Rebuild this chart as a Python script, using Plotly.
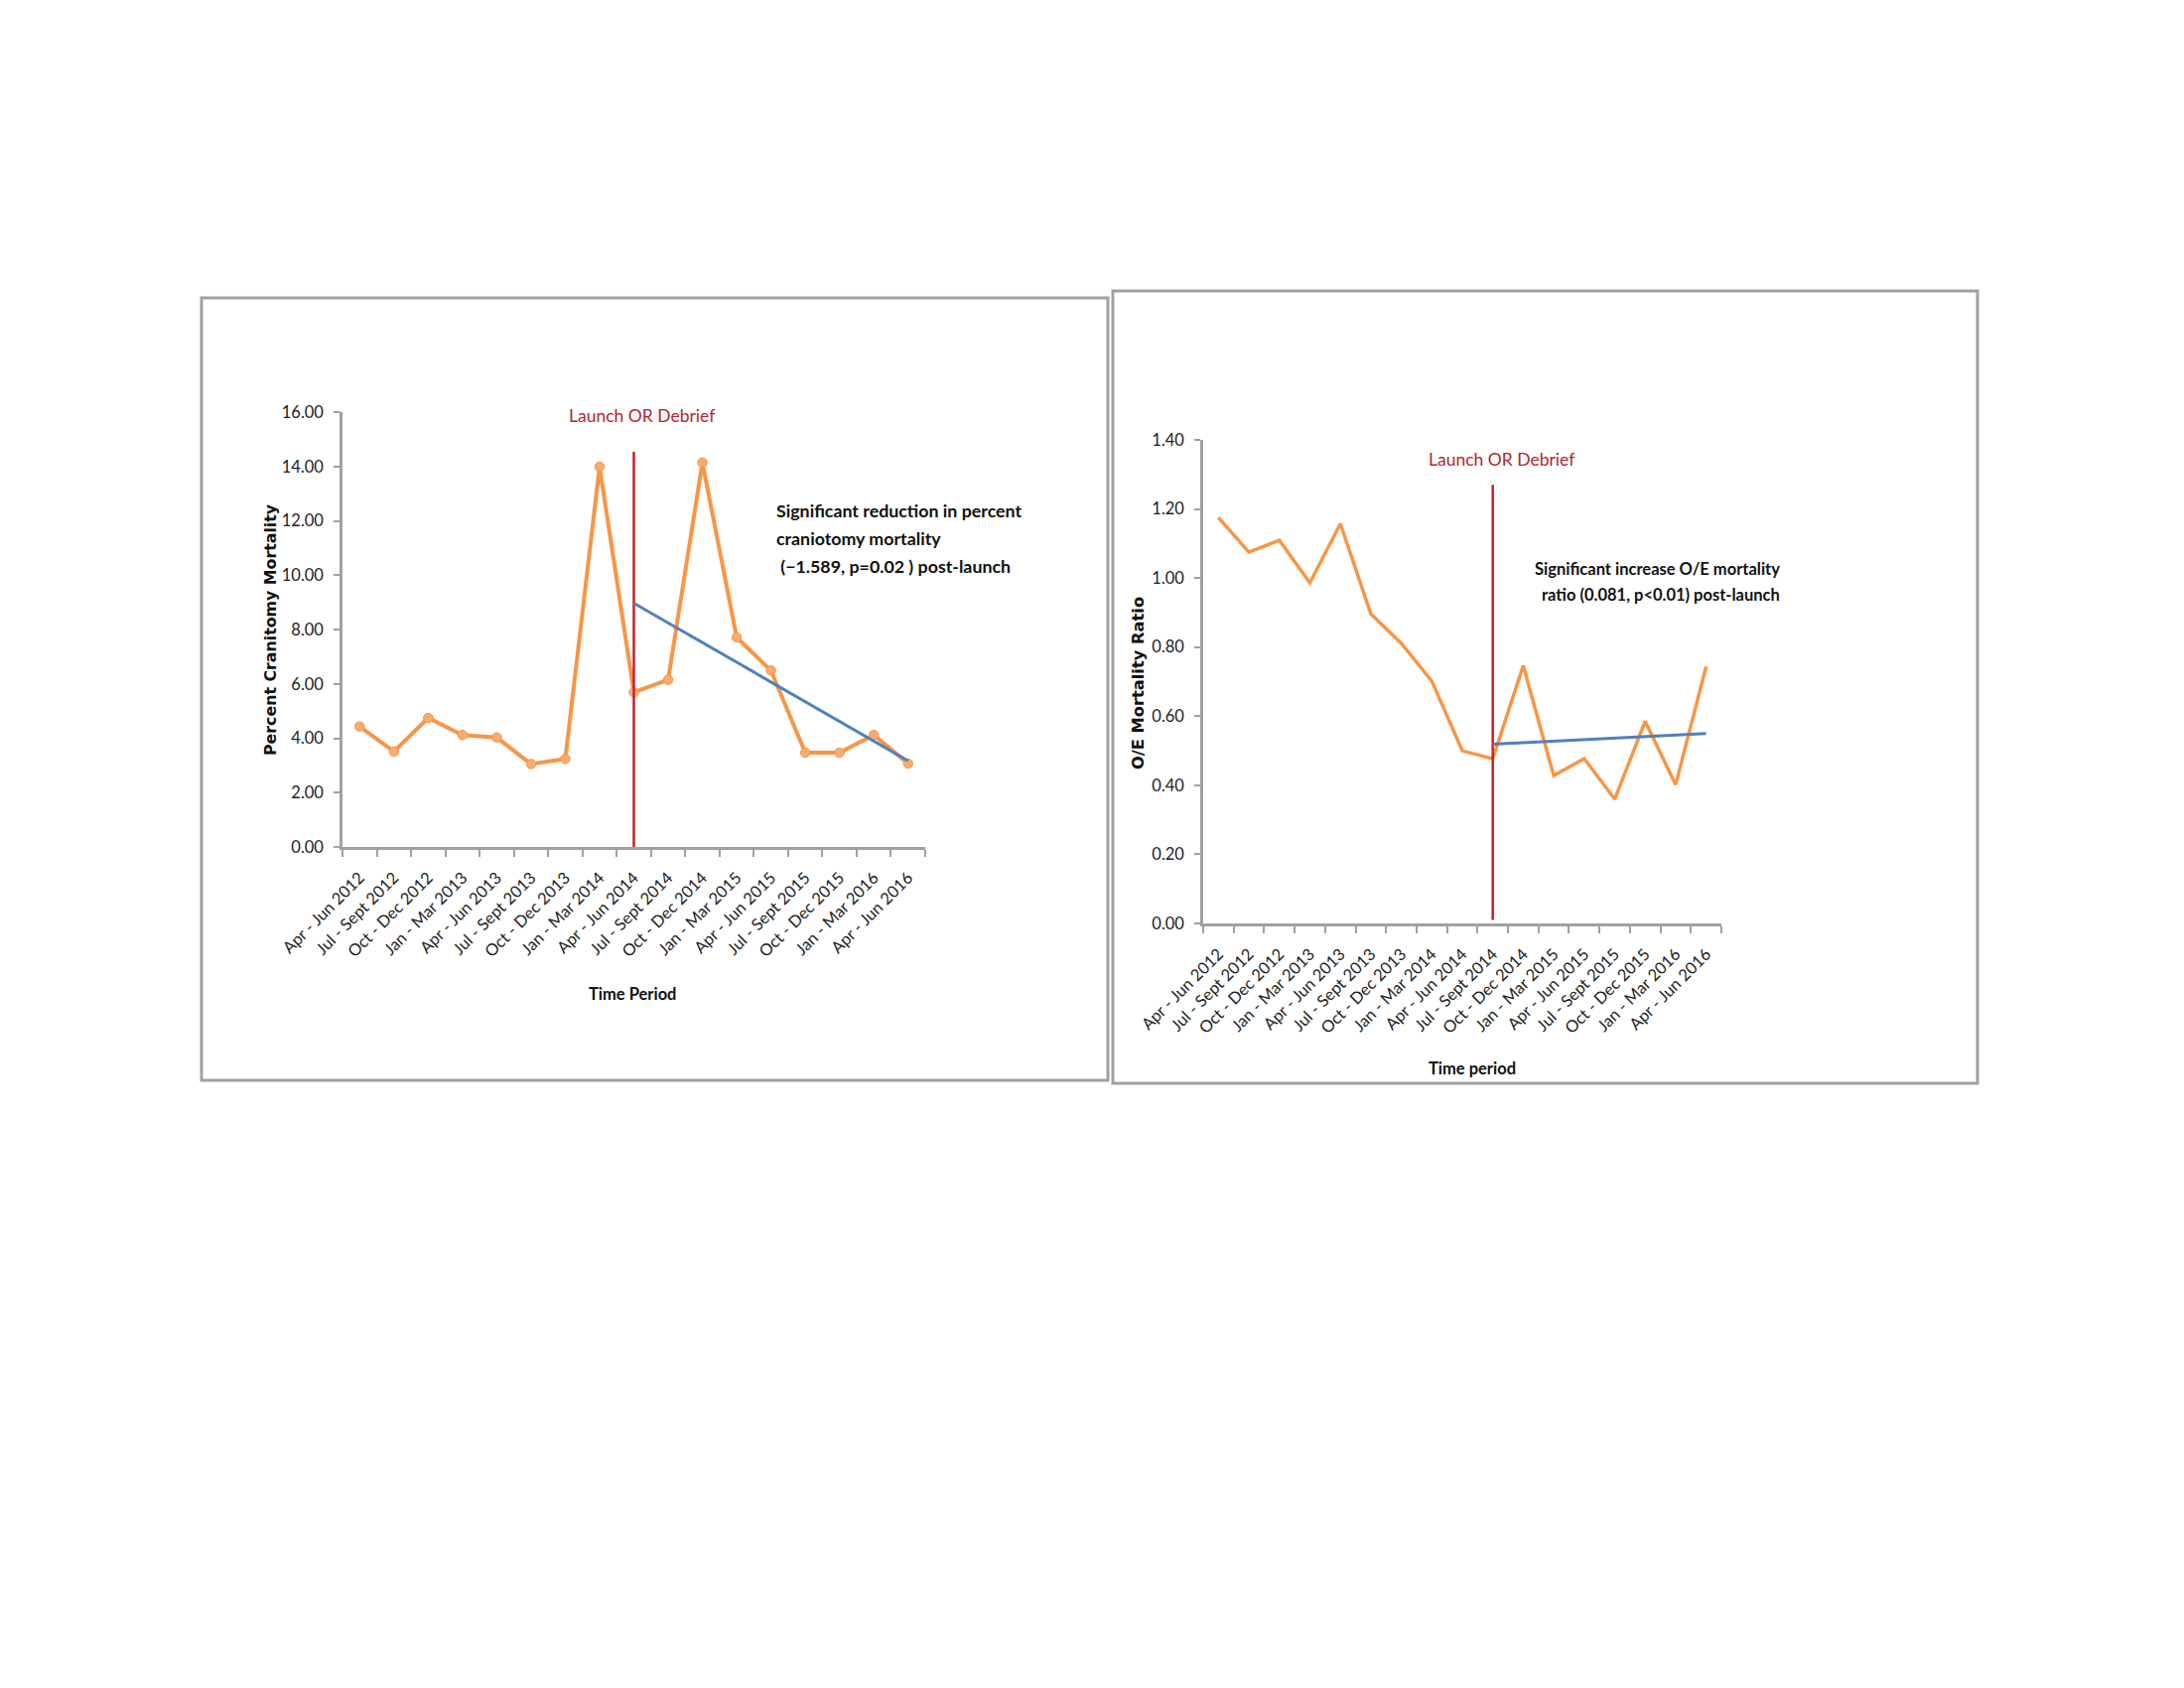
import plotly.graph_objects as go

# ---------------- data ----------------
periods = ["Apr - Jun 2012", "Jul - Sept 2012", "Oct - Dec 2012", "Jan - Mar 2013",
           "Apr - Jun 2013", "Jul - Sept 2013", "Oct - Dec 2013", "Jan - Mar 2014",
           "Apr - Jun 2014", "Jul - Sept 2014", "Oct - Dec 2014", "Jan - Mar 2015",
           "Apr - Jun 2015", "Jul - Sept 2015", "Oct - Dec 2015", "Jan - Mar 2016",
           "Apr - Jun 2016"]

pct_mortality = [4.43, 3.51, 4.75, 4.12, 4.03, 3.05, 3.24, 13.99, 5.69, 6.15,
                 14.14, 7.71, 6.49, 3.47, 3.47, 4.12, 3.07]
oe_ratio = [1.175, 1.075, 1.109, 0.986, 1.157, 0.896, 0.811, 0.702, 0.500, 0.477,
            0.746, 0.428, 0.477, 0.360, 0.585, 0.402, 0.744]

left_launch = ["Apr - Jun 2014", "Apr - Jun 2014"]
left_launch_y = [0, 14.54]
right_launch = ["Jul - Sept 2014", "Jul - Sept 2014"]
right_launch_y = [0.01, 1.27]

left_trend_x = ["Apr - Jun 2014", "Apr - Jun 2016"]
left_trend_y = [8.97, 3.17]
right_trend_x = ["Jul - Sept 2014", "Apr - Jun 2016"]
right_trend_y = [0.519, 0.550]

left_yticks = [0, 2, 4, 6, 8, 10, 12, 14, 16]
right_yticks = [0, 0.2, 0.4, 0.6, 0.8, 1.0, 1.2, 1.4]

left_note = ["Significant reduction in percent",
             "craniotomy mortality",
             " (\u22121.589, p=0.02 ) post-launch"]
right_note = ["Significant increase O/E mortality",
              "ratio (0.081, p<0.01) post-launch"]

# ---------------- styling ----------------
W, H = 2200, 1700
OFF = 8  # page body margin
ORANGE = "#F79646"
BLUE = "#4F81BD"
RED = "#C8202A"
DARKRED = "#B0262E"
GREY = "#A0A0A0"
NARROW = "Lato, Roboto, sans-serif"
WIDE = "DejaVu Sans, Verdana, sans-serif"


def px(xp):
    return (xp - OFF) / W


def py(yp):
    return 1 - (yp - OFF) / H


fig = go.Figure()

fig.add_trace(go.Scatter(x=periods, y=pct_mortality, mode="lines+markers",
                         line=dict(color=ORANGE, width=4),
                         marker=dict(symbol="circle", size=9.5, color="#F8AD6E",
                                     line=dict(color=ORANGE, width=1)),
                         xaxis="x", yaxis="y", showlegend=False))
fig.add_trace(go.Scatter(x=left_launch, y=left_launch_y, mode="lines",
                         line=dict(color=RED, width=2.5),
                         xaxis="x", yaxis="y", showlegend=False))
fig.add_trace(go.Scatter(x=left_trend_x, y=left_trend_y, mode="lines",
                         line=dict(color=BLUE, width=3),
                         xaxis="x", yaxis="y", showlegend=False))

fig.add_trace(go.Scatter(x=periods, y=oe_ratio, mode="lines",
                         line=dict(color=ORANGE, width=3.5),
                         xaxis="x2", yaxis="y2", showlegend=False))
fig.add_trace(go.Scatter(x=right_launch, y=right_launch_y, mode="lines",
                         line=dict(color=RED, width=2.5),
                         xaxis="x2", yaxis="y2", showlegend=False))
fig.add_trace(go.Scatter(x=right_trend_x, y=right_trend_y, mode="lines",
                         line=dict(color=BLUE, width=3),
                         xaxis="x2", yaxis="y2", showlegend=False))

xcommon = dict(type="category", categoryorder="array", categoryarray=periods,
               range=[-0.5, len(periods) - 0.5], tickson="boundaries",
               ticks="outside", ticklen=7, tickwidth=2, tickcolor=GREY,
               showline=True, linecolor=GREY, linewidth=2.5, showgrid=False,
               zeroline=False, tickangle=-45, automargin=False,
               ticklabelstandoff=12,
               tickfont=dict(family=NARROW, size=16.5, color="#222222"))
ycommon = dict(ticks="outside", ticklen=6, tickwidth=2, tickcolor=GREY,
               showline=True, linecolor=GREY, linewidth=2.5, showgrid=False,
               zeroline=False, tickformat=".2f", automargin=False,
               ticklabelstandoff=7,
               tickfont=dict(family=NARROW, size=16.5, color="#222222"))

fig.update_layout(
    template="none",
    width=W, height=H, margin=dict(l=0, r=0, t=0, b=0, pad=0, autoexpand=False),
    paper_bgcolor="white", plot_bgcolor="rgba(0,0,0,0)",
    xaxis=dict(xcommon, domain=[px(345), px(932)], anchor="y"),
    yaxis=dict(ycommon, domain=[py(853), py(415)], range=[0, 16],
               tickvals=left_yticks, anchor="x"),
    xaxis2=dict(xcommon, domain=[px(1212), px(1734)], anchor="y2"),
    yaxis2=dict(ycommon, domain=[py(930), py(443)], range=[0, 1.4],
                tickvals=right_yticks, anchor="x2"),
)

# panel borders
fig.add_shape(type="rect", xref="paper", yref="paper",
              x0=px(203), x1=px(1116), y0=py(1088), y1=py(300),
              line=dict(color=GREY, width=3), layer="below")
fig.add_shape(type="rect", xref="paper", yref="paper",
              x0=px(1121), x1=px(1992), y0=py(1091), y1=py(293),
              line=dict(color=GREY, width=3), layer="below")


def note(text, x, y, size, family=NARROW, color="#111111", xanchor="center",
         angle=0):
    return dict(text=text, x=px(x), y=py(y), xref="paper", yref="paper",
                xanchor=xanchor, yanchor="middle", showarrow=False,
                textangle=angle, font=dict(family=family, size=size, color=color))


ann = []
ann.append(note("Launch OR Debrief", 646, 418, 17.5, color=DARKRED))
ann.append(note("Launch OR Debrief", 1512, 462, 17.5, color=DARKRED))
for i, line in enumerate(left_note):
    ann.append(note("<b>" + line + "</b>", 780, 514 + 28 * i, 17.8, xanchor="left"))
for i, line in enumerate(right_note):
    ann.append(note("<b>" + line + "</b>", 1795, 573 + 26 * i, 16.5, xanchor="right"))
ann.append(note("<b>Percent Cranitomy Mortality</b>", 273, 634, 15.8, family=WIDE, angle=-90))
ann.append(note("<b>O/E Mortality Ratio</b>", 1146, 688, 16.3, family=WIDE, angle=-90))
ann.append(note("<b>Time Period</b>", 637, 1001, 16.5))
ann.append(note("<b>Time period</b>", 1483, 1076, 16.5))
fig.update_layout(annotations=ann)

fig.write_html("out.html")
